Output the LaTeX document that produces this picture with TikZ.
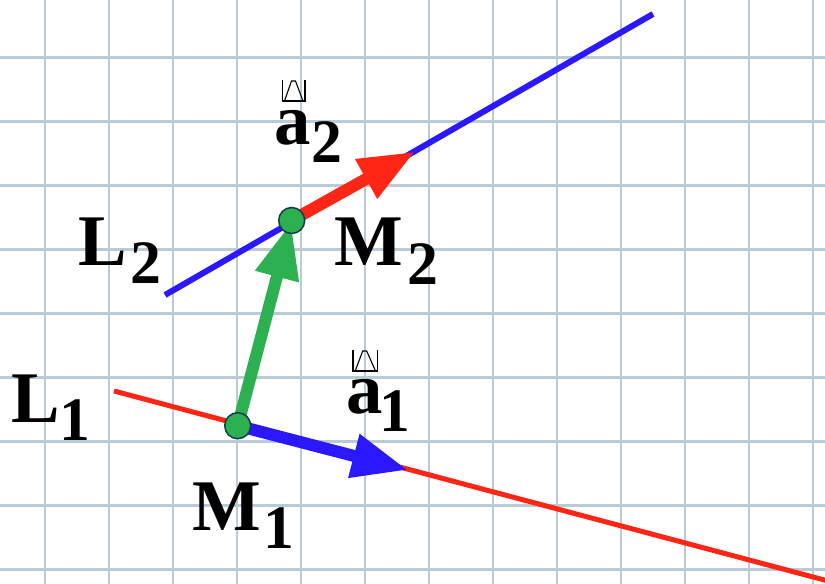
\documentclass[tikz,border=0pt]{standalone}
\usepackage{fontspec}
\setmainfont{Liberation Serif}
\usetikzlibrary{arrows.meta}
\definecolor{gridc}{RGB}{184,203,214}
\definecolor{lred}{RGB}{255,38,22}
\definecolor{lblue}{RGB}{44,24,255}
\definecolor{lgreen}{RGB}{45,176,80}
\definecolor{ptedge}{RGB}{20,60,80}
\newcommand\mysub[3]{\kern#1bp\raisebox{-#2bp}{\fontsize{62}{62}\selectfont #3}}
\begin{document}
\begin{tikzpicture}[x=1bp,y=-1bp,
 gridline/.style={draw=gridc,line width=2.5bp},
 lineone/.style={draw=lred,line width=5bp},
 linetwo/.style={draw=lblue,line width=6bp},
 vecarrow/.style={line width=12bp,-{Triangle[length=56bp,width=42bp]}},
 pt/.style={circle,fill=lgreen,draw=ptedge,line width=1.5bp,minimum size=26bp,inner sep=0pt},
 lbl/.style={anchor=base west,inner sep=0pt,font=\fontsize{73}{73}\selectfont\bfseries},
 acc/.style={draw=black,line width=1.1bp}]
\useasboundingbox (0,0) rectangle (825,584);
\clip (0,0) rectangle (825,584);
\fill[white] (0,0) rectangle (825,584);
% grid
\foreach \k in {0,...,12} \draw[gridline] (45+64*\k,0) -- (45+64*\k,584);
\foreach \k in {0,...,8} \draw[gridline] (0,57.7+64*\k) -- (825,57.7+64*\k);
% lines
\coordinate (L1a) at (114,391);
\coordinate (L1b) at (830,581.5);
\coordinate (L2a) at (165,295);
\coordinate (L2b) at (653,14);
\draw[lineone] (L1a) -- (L1b);
\draw[linetwo] (L2a) -- (L2b);
% points and vectors
\coordinate (m1) at (237.7,425.7);
\coordinate (m2) at (291.7,220.5);
\coordinate (a1tip) at (408,470);
\coordinate (a2tip) at (415,151.7);
\draw[vecarrow,draw=lblue,fill=lblue] (m1) -- (a1tip);
\draw[vecarrow,draw=lred,fill=lred] (m2) -- (a2tip);
\draw[vecarrow,draw=lgreen,fill=lgreen,shorten >=2bp] (m1) -- (m2);
\node[pt] (M1) at (m1) {};
\node[pt] (M2) at (m2) {};
% labels
\node[lbl] (labL2) at (78.5,265) {L\mysub{3.5}{18}{2}};
\node[lbl] (labL1) at (11.3,422.7) {L\mysub{-1}{18}{1}};
\node[lbl] (labM2) at (334,265) {M\mysub{5}{19}{2}};
\node[lbl] (labM1) at (192,530) {M\mysub{3}{18}{1}};
\node[lbl] (laba2) at (274,145) {a\mysub{1}{18}{2}};
\node[lbl] (laba1) at (346,413) {a\mysub{-3.5}{18.7}{1}};
% fallback accent glyphs above a
\draw[acc] (282.3,80) -- (282.3,101) -- (305,101) -- (305,80);
\draw[acc] (284.5,101) -- (291.5,81) -- (295.5,81) -- (303,101);
\draw[acc] (353,350) -- (353,371) -- (377.7,371) -- (377.7,350);
\draw[acc] (355.2,371) -- (362.7,351) -- (366.7,351) -- (375.5,371);
\end{tikzpicture}
\end{document}
